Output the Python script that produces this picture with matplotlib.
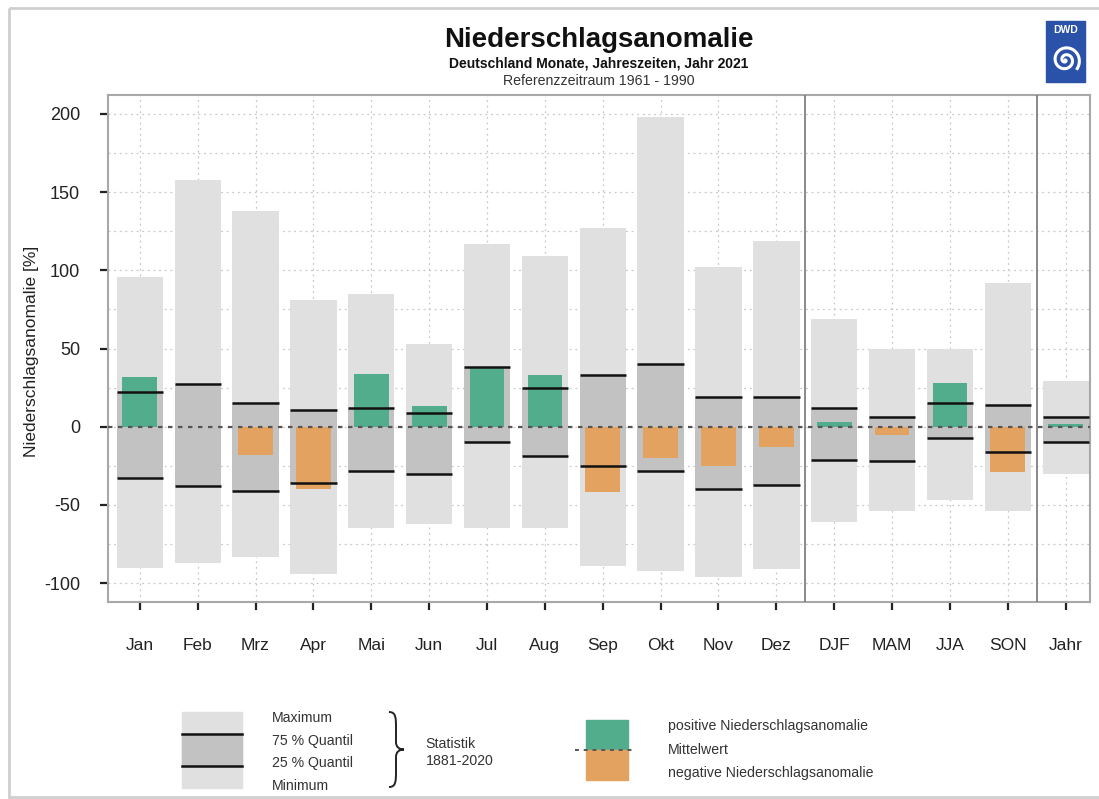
import matplotlib.pyplot as plt
import numpy as np
from matplotlib.patches import Rectangle, PathPatch
from matplotlib.path import Path

plt.rcParams['font.family'] = ['Liberation Sans', 'DejaVu Sans']
plt.rcParams['axes.unicode_minus'] = False

# Daten (Niederschlagsanomalie in %)
labels = ["Jan", "Feb", "Mrz", "Apr", "Mai", "Jun", "Jul", "Aug", "Sep", "Okt",
          "Nov", "Dez", "DJF", "MAM", "JJA", "SON", "Jahr"]
maximum = [96, 158, 138, 81, 85, 53, 117, 109, 127, 198, 102, 119, 69, 50, 50, 92, 29]
q75 = [22, 27, 15, 11, 12, 9, 38, 25, 33, 40, 19, 19, 12, 6, 15, 14, 6]
q25 = [-33, -38, -41, -36, -28, -30, -10, -19, -25, -28, -40, -37, -21, -22, -7, -16, -10]
minimum = [-90, -87, -83, -94, -65, -62, -65, -65, -89, -92, -96, -91, -61, -54, -47, -54, -30]
anomalie = [32, 0, -18, -40, 34, 13, 38, 33, -42, -20, -25, -13, 3, -5, 28, -29, 2]

W, H = 1099, 799
fig = plt.figure(figsize=(W / 100, H / 100), dpi=100)

ax = fig.add_axes([108 / W, 1 - 602 / H, (1090 - 108) / W, (602 - 95) / H])
x = np.arange(1, len(labels) + 1)

c_range = "#e0e0e0"
c_box = "#c2c2c2"
c_pos = "#52ad8d"
c_neg = "#e4a261"

mx = np.array(maximum)
mn = np.array(minimum)
o = np.array(q75)
u = np.array(q25)
an = np.array(anomalie)

ax.bar(x, mx - mn, bottom=mn, width=0.8, color=c_range, zorder=2)
ax.bar(x, o - u, bottom=u, width=0.8, color=c_box, zorder=3)
farben = [c_pos if v >= 0 else c_neg for v in an]
ax.bar(x, an, width=0.6, color=farben, zorder=4)
ax.hlines(o, x - 0.4, x + 0.4, color="#111111", lw=1.8, zorder=5)
ax.hlines(u, x - 0.4, x + 0.4, color="#111111", lw=1.8, zorder=5)

# Mittelwert-Linie
ax.axhline(0, color="#555555", lw=1.6, linestyle=(0, (2, 2.5)), zorder=6)

# Trennlinien Monate / Jahreszeiten / Jahr
for s in [12.5, 16.5]:
    ax.axvline(s, color="#808080", lw=1.3, zorder=6)

ax.set_xlim(0.45, 17.42)
ax.set_ylim(-112, 212)
ax.set_yticks(np.arange(-100, 201, 50))
ax.set_yticks(np.arange(-100, 201, 25), minor=True)
ax.set_xticks(x)
ax.set_xticklabels(labels)
ax.grid(True, which="both", axis="y", color="#c8c8c8", lw=0.9, linestyle=(0, (1.5, 3)), zorder=1)
ax.grid(True, axis="x", color="#c8c8c8", lw=0.9, linestyle=(0, (1.5, 3)), zorder=1)
ax.tick_params(axis="y", which="minor", length=0)
ax.tick_params(axis="y", which="major", length=6, width=1.6, color="#222222", pad=14, labelsize=13, labelcolor="#222222")
ax.tick_params(axis="x", length=6, width=1.6, color="#222222", pad=20, labelsize=12.5, labelcolor="#222222")
for sp in ax.spines.values():
    sp.set_color("#a8a8a8")
    sp.set_linewidth(1.5)

fig.text(32 / W, 1 - 351 / H, "Niederschlagsanomalie [%]", rotation=90,
         ha="center", va="center", fontsize=12.5, color="#222222")

# Titel
fig.text(599 / W, 1 - 40 / H, "Niederschlagsanomalie", ha="center", va="center",
         fontsize=20, fontweight="bold", color="#111111")
fig.text(599 / W, 1 - 64 / H, "Deutschland Monate, Jahreszeiten, Jahr 2021", ha="center",
         va="center", fontsize=10, fontweight="bold", color="#111111")
fig.text(599 / W, 1 - 81 / H, "Referenzzeitraum 1961 - 1990", ha="center", va="center",
         fontsize=10.2, color="#333333")

# Overlay in Pixelkoordinaten für Legende, Logo, Rahmen
lg = fig.add_axes([0, 0, 1, 1], zorder=10)
lg.set_xlim(0, W)
lg.set_ylim(H, 0)
lg.axis("off")
lg.patch.set_alpha(0)

lg.add_patch(Rectangle((9, 8), W, H - 10, fill=False, ec="#cfcfcf", lw=2))

# Legende Statistik
lg.add_patch(Rectangle((182, 712), 60, 76, color=c_range))
lg.add_patch(Rectangle((182, 734), 60, 32, color=c_box))
lg.plot([182, 242], [734, 734], color="#111111", lw=1.8)
lg.plot([182, 242], [766, 766], color="#111111", lw=1.8)
for ty, t in zip([718, 741, 763, 786], ["Maximum", "75 % Quantil", "25 % Quantil", "Minimum"]):
    lg.text(272, ty, t, fontsize=10.2, va="center", color="#333333")

x0, xm, xt = 389, 396, 404
verts = [(x0, 712), (xm, 712), (xm, 718), (xm, 728), (xm, 742),
         (xm, 747), (xm + 3, 749.5), (xt, 749.5),
         (xm + 3, 749.5), (xm, 752), (xm, 757), (xm, 771),
         (xm, 781), (xm, 787), (x0, 787)]
codes = [Path.MOVETO, Path.CURVE4, Path.CURVE4, Path.CURVE4, Path.LINETO,
         Path.CURVE4, Path.CURVE4, Path.CURVE4,
         Path.CURVE4, Path.CURVE4, Path.CURVE4, Path.LINETO,
         Path.CURVE4, Path.CURVE4, Path.CURVE4]
lg.add_patch(PathPatch(Path(verts, codes), fill=False, ec="#222222", lw=1.4))
lg.text(425, 744, "Statistik", fontsize=10.2, va="center", color="#333333")
lg.text(426, 761, "1881-2020", fontsize=10.2, va="center", color="#333333")

# Legende Anomalie
lg.add_patch(Rectangle((586, 720), 42, 30, color=c_pos))
lg.add_patch(Rectangle((586, 750), 42, 30, color=c_neg))
lg.plot([575, 634], [750, 750], color="#555555", lw=1.4, linestyle=(0, (2, 2.5)))
for ty, t in zip([726, 750, 773], ["positive Niederschlagsanomalie", "Mittelwert",
                                   "negative Niederschlagsanomalie"]):
    lg.text(668, ty, t, fontsize=10.2, va="center", color="#333333")

# DWD Logo
lg.add_patch(Rectangle((1046, 21), 39, 61, color="#2a52a8"))
lg.text(1065.5, 30, "DWD", fontsize=7.5, fontweight="bold", color="white", ha="center", va="center")
t = np.linspace(0, 4.2 * np.pi, 300)
r = 1.1 * t
lg.plot(1065.5 + r * np.cos(t), 60 + r * np.sin(t), color="white", lw=2.2)

fig.savefig("out.png", dpi=100)
